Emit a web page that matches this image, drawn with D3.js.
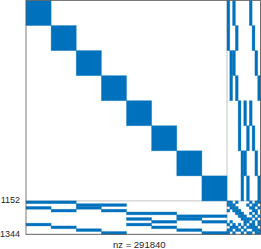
<!DOCTYPE html>
<html>
<head>
<meta charset="utf-8">
<script src="https://cdn.jsdelivr.net/npm/d3@7"></script>
<style>
  body { margin: 0; background: #fff; }
  text { font-family: "Liberation Sans", Arial, sans-serif; fill: #262626; }
</style>
</head>
<body>
<div id="spy"></div>
<script>
// matrix layout
var n = 1344;
var blockSize = 144;
var nBlocks = 8;
var linkStart = 1152;
var chunkSize = 16;

// which 16-wide linking chunks each diagonal block touches
var blockLinks = [
  [0, 2, 8], [0, 3, 9], [1, 2, 10], [1, 3, 11],
  [4, 6, 8], [4, 7, 9], [5, 6, 10], [5, 7, 11]
];

// lower right 192x192 corner, one char per 16x16 chunk
var cornerGrid = [
  "110100001011",
  "111000010110",
  "011100001101",
  "101110000110",
  "000111001010",
  "000011100101",
  "000001111010",
  "010000110101",
  "101010101101",
  "011101011110",
  "110110100111",
  "101001011011"
];

var yTicks = [1152, 1344];
var nzLabel = "nz = 291840";

// dimensions
var width = 261, height = 249;

var svg = d3.select("#spy")
  .append("svg")
    .attr("width", width)
    .attr("height", height);

var x = d3.scaleLinear().domain([0, n]).range([26, 260.5]);
var y = d3.scaleLinear().domain([0, n]).range([0.5, 234.3]);

// build the list of nonzero rectangles
var cells = [];
for (var b = 0; b < nBlocks; b++) {
  cells.push({r: b * blockSize, c: b * blockSize, h: blockSize, w: blockSize});
  blockLinks[b].forEach(function(k) {
    // right strip and its transpose in the bottom strip
    cells.push({r: b * blockSize, c: linkStart + k * chunkSize, h: blockSize, w: chunkSize});
    cells.push({r: linkStart + k * chunkSize, c: b * blockSize, h: chunkSize, w: blockSize});
  });
}
cornerGrid.forEach(function(row, i) {
  row.split("").forEach(function(v, j) {
    if (v === "1") {
      cells.push({r: linkStart + i * chunkSize, c: linkStart + j * chunkSize, h: chunkSize, w: chunkSize});
    }
  });
});

// grid lines at the tick positions
svg.append("g")
  .selectAll("line.gx")
  .data(yTicks)
  .enter()
  .append("line")
    .attr("x1", x(0)).attr("x2", x(n))
    .attr("y1", function(d) { return y(d); })
    .attr("y2", function(d) { return y(d); })
    .style("stroke", "#c4c4c4")
    .style("stroke-width", 1);
svg.append("g")
  .selectAll("line.gy")
  .data(yTicks)
  .enter()
  .append("line")
    .attr("y1", y(0)).attr("y2", y(n))
    .attr("x1", function(d) { return x(d); })
    .attr("x2", function(d) { return x(d); })
    .style("stroke", "#c4c4c4")
    .style("stroke-width", 1);

// nonzeros
svg.append("g")
  .selectAll("rect")
  .data(cells)
  .enter()
  .append("rect")
    .attr("x", function(d) { return x(d.c); })
    .attr("y", function(d) { return y(d.r); })
    .attr("width", function(d) { return x(d.c + d.w) - x(d.c); })
    .attr("height", function(d) { return y(d.r + d.h) - y(d.r); })
    .style("fill", "#0072bd")
    .style("stroke", "#0072bd")
    .style("stroke-opacity", 0.45)
    .style("stroke-width", 0.7);

// axes box
svg.append("rect")
  .attr("x", x(0))
  .attr("y", y(0))
  .attr("width", x(n) - x(0))
  .attr("height", y(n) - y(0))
  .style("fill", "none")
  .style("stroke", "#5a5a5a")
  .style("stroke-width", 0.8);

// y tick labels
svg.selectAll("text.ytick")
  .data(yTicks)
  .enter()
  .append("text")
    .attr("x", 20)
    .attr("y", function(d) { return y(d); })
    .attr("text-anchor", "end")
    .attr("dominant-baseline", "middle")
    .style("font-size", "9px")
    .text(function(d) { return d; });

// nz label
svg.append("text")
  .attr("x", (x(0) + x(n)) / 2 - 4)
  .attr("y", 247.5)
  .attr("text-anchor", "middle")
  .style("font-size", "9.5px")
  .text(nzLabel);
</script>
</body>
</html>
